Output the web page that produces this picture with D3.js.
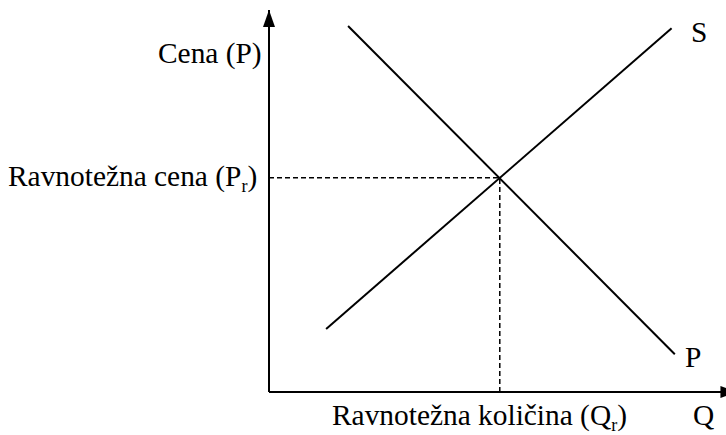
<!DOCTYPE html>
<html lang="en">
<head>
<meta charset="UTF-8">
<title>Ponuda i potražnja</title>
<style>
    body { margin: 0; background: #fff; }
    .lbl { font-family: "Liberation Serif", "Times New Roman", serif; font-size: 29.4px; fill: #000; }
</style>
</head>
<body>
<div id="chart"></div>
<script src="https://d3js.org/d3.v7.min.js"></script>
<script>
var width = 726, height = 435;
// krive (u jedinicama grafikona, 0..100)
var supply = [{ q: 12.5, p: 16.5 }, { q: 88.1, p: 95.2 }];
var demand = [{ q: 17.3, p: 95.8 }, { q: 88.8, p: 9.9 }];
var equilibrium = { q: 50.5, p: 56.1 };
var labels = {
    yAxis: "Cena (P)",
    price: "Ravnotežna cena (P",
    qty: "Ravnotežna količina (Q",
    sub: "r",
    x: "Q",
    s: "S",
    d: "P"
};

var origin = { x: 269, y: 392 };
var xScale = d3.scaleLinear().domain([0, 100]).range([origin.x, 726]);
var yScale = d3.scaleLinear().domain([0, 100]).range([origin.y, 10]);

var svg = d3.select("#chart").append("svg")
    .attr("width", width).attr("height", height);

var defs = svg.append("defs");
defs.append("marker")
    .attr("id", "arrow")
    .attr("viewBox", "0 0 17 12")
    .attr("refX", 17).attr("refY", 6)
    .attr("markerWidth", 17).attr("markerHeight", 12)
    .attr("markerUnits", "userSpaceOnUse")
    .attr("orient", "auto")
    .append("path")
    .attr("d", "M0,0L17,6L0,12Z")
    .attr("fill", "#000");

// ose
svg.append("line")
    .attr("x1", origin.x).attr("y1", origin.y)
    .attr("x2", origin.x).attr("y2", yScale(100))
    .attr("stroke", "#000").attr("stroke-width", 2)
    .attr("marker-end", "url(#arrow)");
svg.append("line")
    .attr("x1", origin.x).attr("y1", origin.y)
    .attr("x2", xScale(102.5)).attr("y2", origin.y)
    .attr("stroke", "#000").attr("stroke-width", 2)
    .attr("marker-end", "url(#arrow)");

// isprekidane linije
svg.append("path")
    .attr("d", "M" + xScale(0) + "," + yScale(equilibrium.p) +
        "H" + xScale(equilibrium.q) + "V" + yScale(0))
    .attr("fill", "none")
    .attr("stroke", "#000").attr("stroke-width", 1.5)
    .attr("stroke-dasharray", "5,3");

var line = d3.line()
    .x(function(d) { return xScale(d.q); })
    .y(function(d) { return yScale(d.p); });

svg.append("path").attr("d", line(supply))
    .attr("fill", "none").attr("stroke", "#000").attr("stroke-width", 2);
svg.append("path").attr("d", line(demand))
    .attr("fill", "none").attr("stroke", "#000").attr("stroke-width", 2);

// tekst
function label(x, y, txt, sub) {
    var t = svg.append("text").attr("class", "lbl").attr("x", x).attr("y", y);
    t.append("tspan").text(txt);
    if (sub) {
        t.append("tspan").attr("font-size", 18).attr("dy", 6).text(sub);
        t.append("tspan").attr("dy", -6).text(")");
    }
    return t;
}
label(158, 63, labels.yAxis);
label(8, 186, labels.price, labels.sub);
label(332, 425, labels.qty, labels.sub);
label(693, 425, labels.x);
label(691, 42, labels.s);
label(685, 367, labels.d);
</script>
</body>
</html>
